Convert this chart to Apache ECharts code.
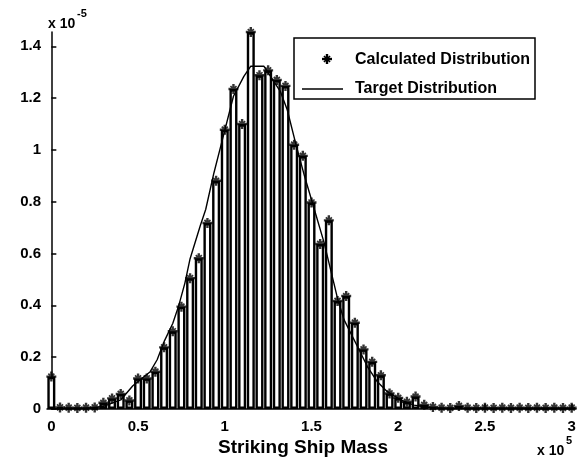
<!DOCTYPE html>
<html><head><meta charset="utf-8">
<script src="https://cdn.jsdelivr.net/npm/echarts@6/dist/echarts.min.js"></script>
<style>html,body{margin:0;padding:0;background:#fff}#c{width:579px;height:462px}</style>
</head><body><div id="c"></div>
<script>
// Striking ship mass bins (units of 1e5)
const bins = [0.00,0.05,0.10,0.15,0.20,0.25,0.30,0.35,0.40,0.45,0.50,0.55,0.60,0.65,0.70,0.75,
  0.80,0.85,0.90,0.95,1.00,1.05,1.10,1.15,1.20,1.25,1.30,1.35,1.40,1.45,1.50,1.55,1.60,1.65,1.70,1.75,
  1.80,1.85,1.90,1.95,2.00,2.05,2.10,2.15,2.20,2.25,2.30,2.35,2.40,2.45,2.50,2.55,2.60,2.65,2.70,2.75,
  2.80,2.85,2.90,2.95,3.00];
// Calculated distribution (units of 1e-5)
const calculated = [0.125,0.006,0.005,0.004,0.005,0.006,0.024,0.041,0.058,0.033,0.118,0.118,0.144,0.238,0.300,0.395,
  0.505,0.582,0.718,0.881,1.078,1.235,1.100,1.455,1.288,1.307,1.270,1.247,1.020,0.977,0.797,0.637,0.728,0.417,0.436,0.333,
  0.230,0.182,0.130,0.060,0.043,0.028,0.048,0.016,0.008,0.005,0.004,0.012,0.005,0.004,0.005,0.004,0.005,0.004,0.005,0.004,
  0.005,0.004,0.005,0.004,0.005];
// Target distribution curve
const targetX = [0,0.2,0.3,0.4,0.47,0.57,0.61,0.65,0.70,0.735,0.77,0.80,0.86,0.89,0.937,0.975,1.05,1.11,1.15,1.225,1.264,
  1.32,1.36,1.408,1.46,1.514,1.571,1.629,1.652,1.688,1.765,1.823,1.88,1.937,2.014,2.091,2.168,2.25,3.0];
const targetY = [0,0.002,0.01,0.035,0.09,0.144,0.19,0.26,0.33,0.40,0.486,0.58,0.71,0.77,0.91,1.01,1.207,1.284,1.323,1.323,1.284,
  1.226,1.155,1.027,0.898,0.776,0.646,0.486,0.421,0.344,0.241,0.163,0.105,0.067,0.035,0.015,0.007,0.002,0];
const xTicks = [0,0.5,1,1.5,2,2.5,3];
const yTicks = [0,0.2,0.4,0.6,0.8,1,1.2,1.4];

const FONT = '"Liberation Sans", Arial, sans-serif';
const starPolysBase = [
  [[-5,-1.2],[5,-1.2],[5,1.2],[-5,1.2]],
  [[-1.2,-5],[1.2,-5],[1.2,5],[-1.2,5]],
  [[-2.4,-3.6],[3.6,2.4],[2.4,3.6],[-3.6,-2.4]],
  [[3.6,-2.4],[-2.4,3.6],[-3.6,2.4],[2.4,-3.6]]
];
const star = 'path://' + starPolysBase.map(p=>'M'+p.map(q=>q[0]+','+q[1]).join('L')+'Z').join(' ');

const chart = echarts.init(document.getElementById('c'), null, {renderer:'canvas'});
const pts = bins.map((b,i)=>[b, calculated[i]]);
const tgt = targetX.map((x,i)=>[x, targetY[i]]);

function starPolys(cx, cy, s){
  return starPolysBase.map(p=>({type:'polygon', z:11,
    shape:{points:p.map(q=>[cx+q[0]*s, cy+q[1]*s])}, style:{fill:'#000'}}));
}

chart.setOption({
  animation:false,
  backgroundColor:'#fff',
  grid:{left:47, right:3, top:32, bottom:53, containLabel:false},
  xAxis:{type:'value', min:-0.025, max:3.025,
    axisLine:{show:true, onZero:false, lineStyle:{color:'#000', width:1.5}},
    axisTick:{show:true, inside:true, length:5, customValues:xTicks, lineStyle:{color:'#000', width:1.5}},
    axisLabel:{customValues:xTicks, margin:10, color:'#000', fontFamily:FONT, fontWeight:'bold', fontSize:15,
      formatter:v=>String(v)},
    splitLine:{show:false}},
  yAxis:{type:'value', min:0, max:1.455,
    axisLine:{show:true, lineStyle:{color:'#000', width:1.5}},
    axisTick:{show:true, inside:true, length:5, customValues:yTicks, lineStyle:{color:'#000', width:1.5}},
    axisLabel:{customValues:yTicks, margin:6, color:'#000', fontFamily:FONT, fontWeight:'bold', fontSize:15,
      formatter:v=>String(v)},
    splitLine:{show:false}},
  series:[
    {type:'bar', data:pts, barWidth:8, z:1,
      itemStyle:{color:'#fff', borderColor:'#000', borderWidth:2.4}},
    {type:'line', data:tgt, showSymbol:false, symbol:'none', z:3,
      lineStyle:{color:'#000', width:1.4}},
    {type:'scatter', data:pts, symbol:star, symbolSize:10, z:4,
      itemStyle:{color:'#000'}}
  ],
  graphic:[
    {type:'text', x:48, y:17, style:{text:'x 10', font:'bold 14px '+FONT, fill:'#000'}},
    {type:'text', x:77, y:8, style:{text:'-5', font:'bold 11px '+FONT, fill:'#000'}},
    {type:'text', x:537, y:444, style:{text:'x 10', font:'bold 14px '+FONT, fill:'#000'}},
    {type:'text', x:566, y:435, style:{text:'5', font:'bold 11px '+FONT, fill:'#000'}},
    {type:'text', x:303, y:448, style:{text:'Striking Ship Mass', font:'bold 19px '+FONT, fill:'#000', align:'center', verticalAlign:'middle'}},
    {type:'rect', shape:{x:294, y:38, width:241, height:61}, style:{fill:'#fff', stroke:'#000', lineWidth:1.5}, z:10},
    ...starPolys(327, 59, 1.0),
    {type:'line', shape:{x1:302, y1:89, x2:343, y2:89}, style:{stroke:'#000', lineWidth:1.4}, z:11},
    {type:'text', x:355, y:60, style:{text:'Calculated Distribution', font:'bold 16px '+FONT, fill:'#000', verticalAlign:'middle'}, z:11},
    {type:'text', x:355, y:89, style:{text:'Target Distribution', font:'bold 16px '+FONT, fill:'#000', verticalAlign:'middle'}, z:11}
  ]
});
</script></body></html>
